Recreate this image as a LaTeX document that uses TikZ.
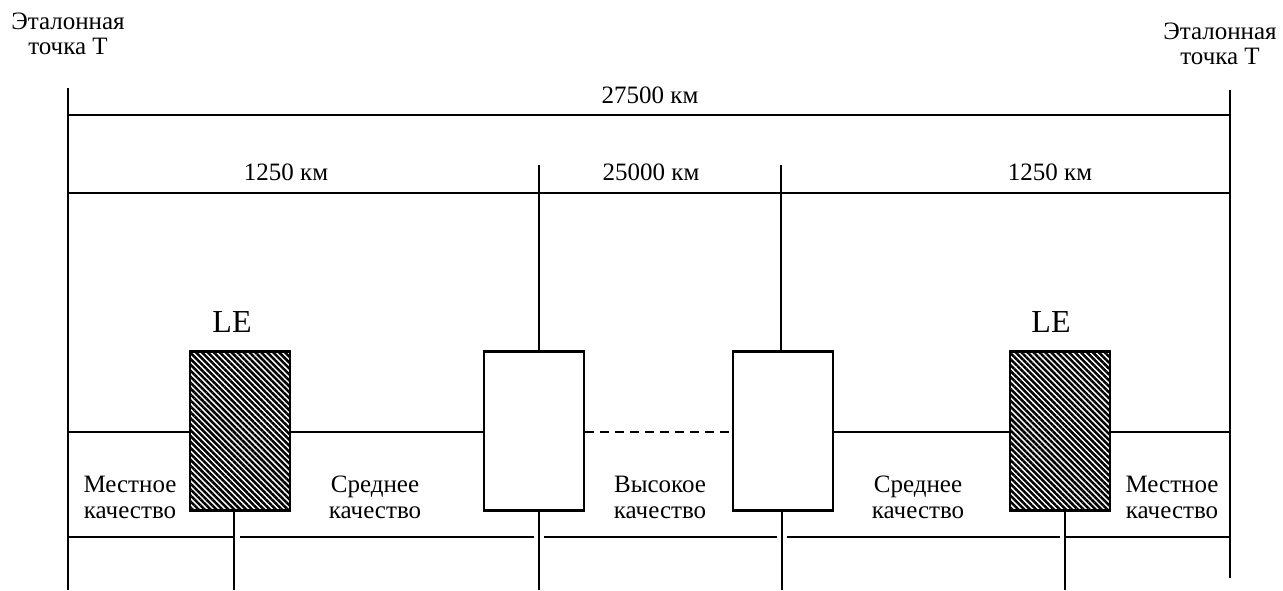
\documentclass[tikz,border=0pt]{standalone}
\usepackage{fontspec}
\setmainfont{Liberation Serif}
\usetikzlibrary{patterns.meta}
\begin{document}
\begin{tikzpicture}[x=1pt,y=-1pt,
  ln/.style={line width=2.8pt},
  lbl/.style={font=\fontsize{25}{25.5}\selectfont, align=center, inner sep=0pt},
  small/.style={font=\fontsize{25}{26}\selectfont, align=center, inner sep=0pt},
  plainbox/.style={draw, line width=2.8pt, fill=white, minimum width=100pt, minimum height=159pt, inner sep=0pt},
  lebox/.style={plainbox, pattern={Lines[angle=-45,distance=4.2pt,line width=2.5pt]}},
  lelbl/.style={font=\fontsize{32}{34}\selectfont, inner sep=0pt}]
\useasboundingbox (0,0) rectangle (1283,590);
% reference labels
\node[lbl] (refL) at (68,34) {Эталонная\\точка T};
\node[lbl] (refR) at (1220,44) {Эталонная\\точка T};
% coordinates
\coordinate (L0) at (68,88);
\coordinate (L1) at (68,590);
\coordinate (R0) at (1230,90);
\coordinate (R1) at (1230,578);
\draw[ln] (L0) -- (L1);
\draw[ln] (R0) -- (R1);
% 27500 line
\coordinate (a1) at (68,115);
\coordinate (a2) at (1230,115);
\draw[ln] (a1) -- (a2);
\node[small] (d27500) at (650,95) {27500 км};
% segment line
\coordinate (b1) at (68,193);
\coordinate (b2) at (1230,193);
\draw[ln] (b1) -- (b2);
\node[small] (d1250a) at (286,172) {1250 км};
\node[small] (d25000) at (651,172) {25000 км};
\node[small] (d1250b) at (1050,172) {1250 км};
% boxes
\node[lebox] (le1) at (240,431) {};
\node[plainbox] (b1x) at (534,431) {};
\node[plainbox] (b2x) at (783,431) {};
\node[lebox] (le2) at (1060,431) {};
\node[lelbl] (leL1) at (232,322) {LE};
\node[lelbl] (leL2) at (1051,322) {LE};
% verticals above center boxes
\coordinate (v1t) at (539,165);
\coordinate (v2t) at (781,165);
\draw[ln] (v1t) -- (v1t |- b1x.north);
\draw[ln] (v2t) -- (v2t |- b2x.north);
% verticals below boxes
\coordinate (w1) at (234,590);
\coordinate (w2) at (539,590);
\coordinate (w3) at (782,590);
\coordinate (w4) at (1065,590);
\draw[ln] (w1 |- le1.south) -- (w1);
\draw[ln] (w2 |- b1x.south) -- (w2);
\draw[ln] (w3 |- b2x.south) -- (w3);
\draw[ln] (w4 |- le2.south) -- (w4);
% middle line
\draw[ln] (68,432) -- (le1.west |- 0,432);
\draw[ln] (le1.east |- 0,432) -- (b1x.west |- 0,432);
\draw[ln, dash pattern=on 9pt off 6pt] (b1x.east |- 0,432) -- (b2x.west |- 0,432);
\draw[ln] (b2x.east |- 0,432) -- (le2.west |- 0,432);
\draw[ln] (le2.east |- 0,432) -- (1230,432);
% bottom line
\draw[ln] (68,537) -- (234,537);
\draw[ln] (240,537) -- (534,537);
\draw[ln] (544,537) -- (777,537);
\draw[ln] (787,537) -- (1060,537);
\draw[ln] (1065,537) -- (1230,537);
% quality labels
\node[small] (q1) at (130,497) {Местное\\качество};
\node[small] (q2) at (375,497) {Среднее\\качество};
\node[small] (q3) at (660,497) {Высокое\\качество};
\node[small] (q4) at (918,497) {Среднее\\качество};
\node[small] (q5) at (1172,497) {Местное\\качество};
\end{tikzpicture}
\end{document}
